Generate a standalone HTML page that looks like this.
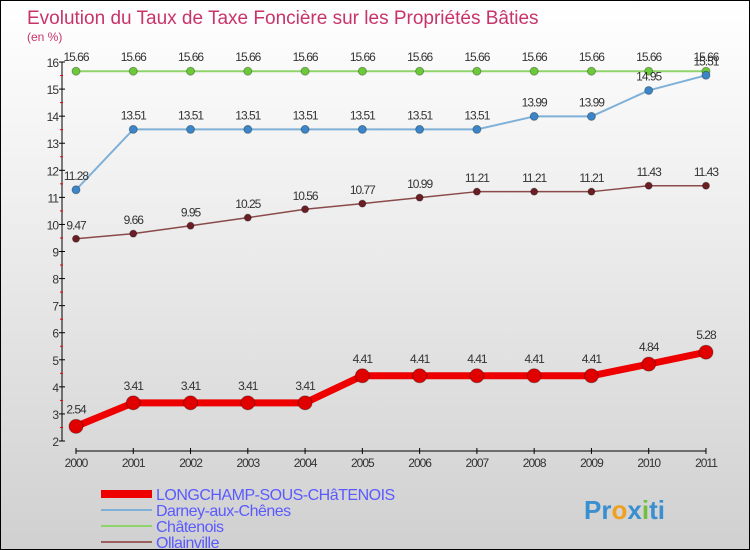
<!DOCTYPE html>
<html><head><meta charset="utf-8"><style>
body{margin:0}
#c{width:750px;height:550px;position:relative;box-sizing:border-box;border:1px solid #000;background:linear-gradient(#fff 0%,#f2f2f2 30%,#d0d0d0 100%);font-family:"Liberation Sans",sans-serif;overflow:hidden}
</style></head><body>
<div id="c">
<svg id="s" width="750" height="550" style="position:absolute;left:0;top:0">
<text x="26" y="23" font-size="19" fill="#c8346a">Evolution du Taux de Taxe Foncière sur les Propriétés Bâties</text>
<text x="26" y="40" font-size="12" fill="#c8346a">(en %)</text>
</svg>
</div>
<script>
const years=["2000","2001","2002","2003","2004","2005","2006","2007","2008","2009","2010","2011"];
const longchamp=[2.54,3.41,3.41,3.41,3.41,4.41,4.41,4.41,4.41,4.41,4.84,5.28];
const darney=[11.28,13.51,13.51,13.51,13.51,13.51,13.51,13.51,13.99,13.99,14.95,15.51];
const chatenois=[15.66,15.66,15.66,15.66,15.66,15.66,15.66,15.66,15.66,15.66,15.66,15.66];
const ollainville=[9.47,9.66,9.95,10.25,10.56,10.77,10.99,11.21,11.21,11.21,11.43,11.43];
const yTicks=[2,3,4,5,6,7,8,9,10,11,12,13,14,15,16];
const NS="http://www.w3.org/2000/svg",s=document.getElementById('s');
const X=i=>75+i*57.27, Y=v=>440-(v-2)*27.07;
function el(t,a,p){const e=document.createElementNS(NS,t);for(const k in a)e.setAttribute(k,a[k]);(p||s).appendChild(e);return e;}
// axes
let a=el('line',{x1:61,y1:Y(16),x2:61,y2:Y(2),stroke:'#000'});

a=el('line',{x1:75,y1:450,x2:705,y2:450,stroke:'#000'});

yTicks.forEach(v=>{el('line',{x1:58,y1:Y(v),x2:64,y2:Y(v),stroke:'#000'});
 if(v<16)el('line',{x1:59,y1:Y(v+0.5),x2:62,y2:Y(v+0.5),stroke:'#e00'});
 const t=el('text',{x:57,y:Y(v)+5,'font-size':12,fill:'#333','text-anchor':'end','letter-spacing':'-1'});t.textContent=v;
 });
years.forEach((y,i)=>{el('line',{x1:X(i),y1:447,x2:X(i),y2:453,stroke:'#000'});
 const t=el('text',{x:X(i),y:466,'font-size':12,fill:'#333','text-anchor':'middle','letter-spacing':'-1'});t.textContent=y;
 });
function series(d,col,dot,w,r,name){
 const g=el('g',{});
 el('polyline',{points:d.map((v,i)=>X(i)+','+Y(v)).join(' '),fill:'none',stroke:col,'stroke-width':w,'stroke-linejoin':'round'},g);
 d.forEach((v,i)=>{const c=el('circle',{cx:X(i),cy:Y(v),r:r,fill:dot,stroke:'rgba(0,0,0,0.3)'},g);
  
  const t=el('text',{x:X(i),y:Y(v)-(r+6),'font-size':12,fill:'#333','text-anchor':'middle','letter-spacing':'-1'},g);t.textContent=v;
  });
}
series(chatenois,'#8fd46a','#6cc93a',2,4,'chatenois-series');
series(darney,'#7fb0d8','#3a86c8',2,4,'darney-series');
series(ollainville,'#8a4a4a','#6b1e24',1.5,3.5,'ollainville-series');
series(longchamp,'#ee0000','#e00000',7,7,'longchamp-series');
const leg=[['LONGCHAMP-SOUS-CHâTENOIS','#ee0000',8],['Darney-aux-Chênes','#7fb0d8',2],['Châtenois','#8fd46a',2],['Ollainville','#9a6060',2]];
leg.forEach((l,i)=>{const g=el('g',{});
 const y=493+i*16;el('line',{x1:100,y1:y,x2:151,y2:y,stroke:l[1],'stroke-width':l[2]},g);
 const t=el('text',{x:155,y:y+6,'font-size':16,fill:'#5a5aff','letter-spacing':'-0.5'},g);t.textContent=l[0];});
const p=el('text',{x:583,y:518,'font-size':26,'font-weight':'bold',fill:'#3a8fd0'});
p.innerHTML='<tspan fill="#3a8fd0">Pr</tspan><tspan fill="#f0a020">o</tspan><tspan fill="#3a8fd0">x</tspan><tspan fill="#70c040">i</tspan><tspan fill="#3a8fd0">ti</tspan>';

</script>
</body></html>
